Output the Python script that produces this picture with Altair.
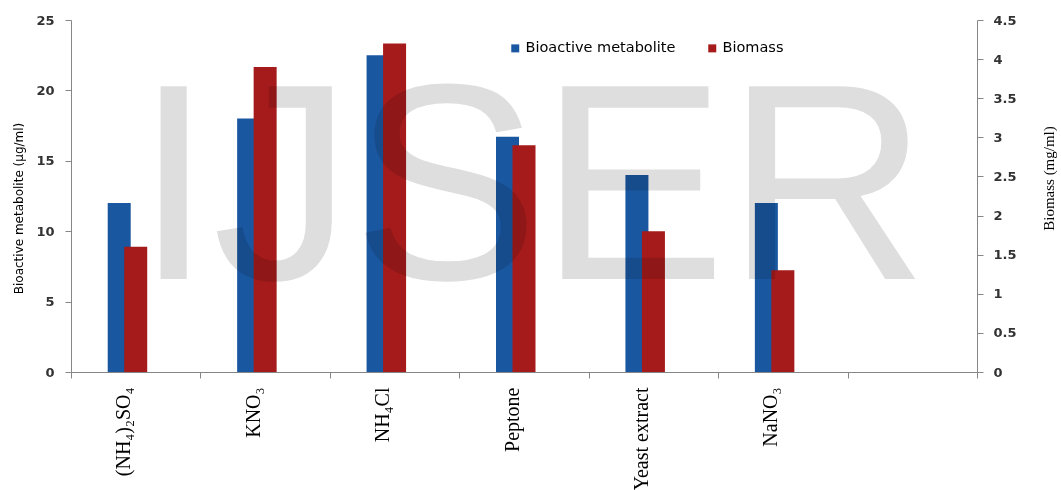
import altair as alt
import pandas as pd

# ---- data ----
categories = ["(NH₄)₂SO₄", "KNO₃", "NH₄Cl", "Peptone", "Yeast extract", "NaNO₃"]
axis_slots = categories + [" "]          # the last slot is empty in the reference
metabolite = [12.0, 18.0, 22.5, 16.7, 14.0, 12.0]   # µg/ml, left axis
biomass = [1.6, 3.9, 4.2, 2.9, 1.8, 1.3]            # mg/ml, right axis
series_names = ["Bioactive metabolite", "Biomass"]
series_colors = ["#1A57A1", "#A51A1A"]
left_ticks = [0, 5, 10, 15, 20, 25]
right_ticks = [0, 0.5, 1, 1.5, 2, 2.5, 3, 3.5, 4, 4.5]
left_title = "Bioactive metabolite (µg/ml)"
right_title = "Biomass (mg/ml)"
watermark = "IJSER"

df_m = pd.DataFrame({"category": categories, "value": metabolite, "series": series_names[0]})
df_b = pd.DataFrame({"category": categories, "value": biomass, "series": series_names[1]})
df_w = pd.DataFrame({"t": [watermark]})

GRAY = "#868686"

x_scale = alt.Scale(domain=axis_slots, paddingInner=0, paddingOuter=0)
x_axis = alt.Axis(
    title=None, labelAngle=270, labelFont="Liberation Serif", labelFontSize=20,
    labelColor="#000", labelPadding=9, labelOffset=-12, tickBand="extent",
    tickSize=6, tickColor=GRAY, domainColor=GRAY, labelOverlap=False, labelLimit=0,
)
color_scale = alt.Scale(domain=series_names, range=series_colors)
legend = alt.Legend(
    orient="none", legendX=437, legendY=21, direction="horizontal", title=None,
    symbolType="square", symbolSize=64, symbolStrokeWidth=0, labelFont="DejaVu Sans",
    labelFontSize=14.5, labelColor="#000", labelOffset=3, columnPadding=29, padding=0,
)

blue = alt.Chart(df_m).mark_bar(width=23, xOffset=-16.5).encode(
    x=alt.X("category:N", scale=x_scale, axis=x_axis),
    y=alt.Y("value:Q", scale=alt.Scale(domain=[0, 25], nice=False, zero=True),
            axis=alt.Axis(orient="left", values=left_ticks, tickSize=6, tickColor=GRAY,
                          domainColor=GRAY, grid=False, labelFont="DejaVu Sans",
                          labelFontSize=13, labelFontWeight="bold", labelColor="#333",
                          labelPadding=11, title=left_title, titleFont="DejaVu Sans",
                          titleFontSize=12, titleFontWeight="normal", titleColor="#000",
                          titleAngle=270, titleAlign="center", titleBaseline="middle",
                          titleX=-53, titleY=188)),
    color=alt.Color("series:N", scale=color_scale, legend=legend),
)

red = alt.Chart(df_b).mark_bar(width=23, xOffset=0).encode(
    x=alt.X("category:N", scale=x_scale, axis=x_axis),
    y=alt.Y("value:Q", scale=alt.Scale(domain=[0, 4.5], nice=False, zero=True),
            axis=alt.Axis(orient="right", values=right_ticks, format="~g", tickSize=6,
                          tickColor=GRAY, domainColor=GRAY, grid=False,
                          labelFont="DejaVu Sans", labelFontSize=13, labelFontWeight="bold",
                          labelColor="#333", labelPadding=10, title=right_title,
                          titleFont="Liberation Serif", titleFontSize=15,
                          titleFontWeight="normal", titleColor="#000", titleAngle=270,
                          titleAlign="center", titleBaseline="middle", titleX=71, titleY=158)),
    color=alt.Color("series:N", scale=color_scale, legend=legend),
)

wm = alt.Chart(df_w).mark_text(
    font="Liberation Sans", fontSize=280, color="#dedede", align="center",
    baseline="alphabetic", blend="multiply",
).encode(text="t:N", x=alt.value(460.5), y=alt.value(259))

chart = alt.layer(blue, red, wm).resolve_scale(y="independent").properties(
    width=906, height=352,
    autosize="none",
    padding={"left": 71, "top": 20, "right": 84, "bottom": 118},
    background="white",
).configure_view(stroke=None)

chart.save("out.html", embed_options={"renderer": "svg", "actions": False})
